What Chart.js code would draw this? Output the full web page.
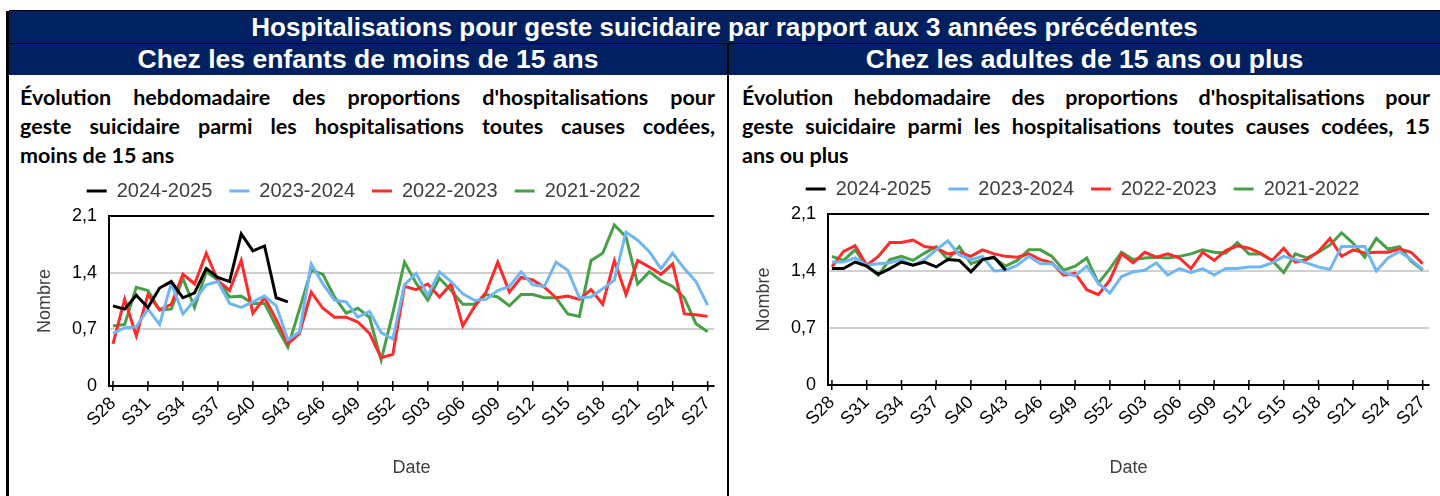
<!DOCTYPE html>
<html lang="fr">
<head>
<meta charset="utf-8">
<title>Hospitalisations pour geste suicidaire</title>
<script src="https://cdn.jsdelivr.net/npm/chart.js@4.4.1/dist/chart.umd.min.js"></script>
<style>
  body {
    margin: 0;
    width: 1440px;
    height: 496px;
    position: relative;
    overflow: hidden;
    background: #fff;
    font-family: 'Liberation Sans', Arial, sans-serif;
  }
  .bandeau {
    position: absolute;
    background: #002060;
    color: #fff;
    font-weight: bold;
    font-size: 26px;
    text-align: center;
    white-space: nowrap;
  }
  #titre { left: 9px; top: 11px; width: 1431px; height: 32px; line-height: 32px; }
  #titre-enfants { left: 9px; top: 44px; width: 718px; height: 31px; line-height: 31px; font-size: 26.5px; }
  #titre-adultes { left: 729px; top: 44px; width: 711px; height: 31px; line-height: 31px; font-size: 26.5px; }
  .trait { position: absolute; background: #000; }
  .sous-titre {
    position: absolute;
    top: 83px;
    font-family: Lato, 'Open Sans', sans-serif;
    font-weight: bold;
    font-size: 21.5px;
    line-height: 29px;
    color: #000;
  }
  .sous-titre div { text-align: justify; text-align-last: justify; white-space: nowrap; }
  .sous-titre div.fin { text-align-last: left; }
  canvas { position: absolute; }
</style>
</head>
<body>
  <div class="trait" style="left:6px; top:11px; width:3px; height:485px;"></div>
  <div class="trait" style="left:9px; top:10px; width:1431px; height:1px;"></div>
  <div id="titre" class="bandeau">Hospitalisations pour geste suicidaire par rapport aux 3 années précédentes</div>
  <div class="trait" style="left:9px; top:43px; width:1431px; height:1px;"></div>
  <div id="titre-enfants" class="bandeau">Chez les enfants de moins de 15 ans</div>
  <div id="titre-adultes" class="bandeau">Chez les adultes de 15 ans ou plus</div>
  <div class="trait" style="left:727px; top:44px; width:2px; height:452px;"></div>

  <div class="sous-titre" style="left:20px; width:695px;">
    <div>Évolution hebdomadaire des proportions d'hospitalisations pour</div>
    <div>geste suicidaire parmi les hospitalisations toutes causes codées,</div>
    <div class="fin">moins de 15 ans</div>
  </div>
  <div class="sous-titre" style="left:742px; width:688px;">
    <div>Évolution hebdomadaire des proportions d'hospitalisations pour</div>
    <div>geste suicidaire parmi les hospitalisations toutes causes codées, 15</div>
    <div class="fin">ans ou plus</div>
  </div>

  <canvas id="graph-enfants" width="715" height="332" style="left:10px; top:164px;"></canvas>
  <canvas id="graph-adultes" width="711" height="334" style="left:729px; top:162px;"></canvas>

<script>
// Semaines de S28 à S27 de l'année suivante
const semaines = [
  'S28', 'S29', 'S30', 'S31', 'S32', 'S33', 'S34', 'S35', 'S36', 'S37', 'S38', 'S39', 'S40',
  'S41', 'S42', 'S43', 'S44', 'S45', 'S46', 'S47', 'S48', 'S49', 'S50', 'S51', 'S52',
  'S01', 'S02', 'S03', 'S04', 'S05', 'S06', 'S07', 'S08', 'S09', 'S10', 'S11', 'S12', 'S13',
  'S14', 'S15', 'S16', 'S17', 'S18', 'S19', 'S20', 'S21', 'S22', 'S23', 'S24', 'S25', 'S26', 'S27'
];
const saisons = ['2024-2025', '2023-2024', '2022-2023', '2021-2022'];
const couleurs = ['#000000', '#6fb6f2', '#ff2a2a', '#47a047'];
const graduationsY = [0, 0.7, 1.4, 2.1];

// Moins de 15 ans
const enfants2024 = [0.99, 0.95, 1.12, 0.97, 1.21, 1.29, 1.09, 1.15, 1.45, 1.34, 1.29, 1.88, 1.67, 1.73, 1.09, 1.04];
const enfants2023 = [0.65, 0.72, 0.73, 0.95, 0.76, 1.27, 0.89, 1.06, 1.25, 1.29, 1.02, 0.97, 1.04, 1.11, 0.99, 0.57,
  0.67, 1.51, 1.26, 1.06, 1.04, 0.85, 0.92, 0.66, 0.58, 1.25, 1.39, 1.12, 1.41, 1.29, 1.14, 1.06, 1.07, 1.18, 1.23,
  1.41, 1.25, 1.23, 1.53, 1.43, 1.09, 1.10, 1.20, 1.31, 1.90, 1.80, 1.66, 1.45, 1.64, 1.45, 1.29, 1.00];
const enfants2022 = [0.52, 1.07, 0.62, 1.13, 0.94, 1.01, 1.38, 1.26, 1.64, 1.30, 1.18, 1.55, 0.90, 1.09, 0.82, 0.52,
  0.65, 1.16, 0.96, 0.85, 0.85, 0.79, 0.65, 0.35, 0.39, 1.23, 1.19, 1.26, 1.10, 1.26, 0.74, 0.98, 1.16, 1.53, 1.16,
  1.34, 1.31, 1.22, 1.09, 1.11, 1.07, 1.19, 1.01, 1.55, 1.13, 1.55, 1.47, 1.38, 1.51, 0.89, 0.88, 0.86];
const enfants2021 = [0.74, 0.76, 1.22, 1.18, 0.94, 0.95, 1.33, 0.97, 1.41, 1.31, 1.10, 1.11, 1.02, 1.02, 0.74, 0.48,
  0.95, 1.43, 1.38, 1.10, 0.90, 0.96, 0.85, 0.32, 0.90, 1.53, 1.27, 1.06, 1.33, 1.18, 1.01, 1.01, 1.13, 1.10, 0.99,
  1.13, 1.13, 1.09, 1.09, 0.89, 0.86, 1.55, 1.64, 1.99, 1.84, 1.26, 1.41, 1.30, 1.23, 1.09, 0.77, 0.67];

// 15 ans ou plus
const adultes2024 = [1.43, 1.43, 1.51, 1.46, 1.36, 1.43, 1.51, 1.47, 1.51, 1.45, 1.54, 1.53, 1.39, 1.54, 1.57, 1.41];
const adultes2023 = [1.51, 1.51, 1.56, 1.47, 1.49, 1.50, 1.54, 1.47, 1.54, 1.66, 1.77, 1.60, 1.54, 1.58, 1.40, 1.41,
  1.47, 1.58, 1.49, 1.49, 1.38, 1.34, 1.46, 1.25, 1.13, 1.33, 1.39, 1.41, 1.50, 1.35, 1.43, 1.38, 1.43, 1.35, 1.43,
  1.43, 1.45, 1.45, 1.50, 1.58, 1.54, 1.50, 1.45, 1.42, 1.70, 1.70, 1.70, 1.40, 1.56, 1.64, 1.54, 1.42];
const adultes2022 = [1.45, 1.64, 1.71, 1.47, 1.58, 1.75, 1.75, 1.78, 1.70, 1.68, 1.61, 1.63, 1.58, 1.66, 1.61, 1.58,
  1.57, 1.61, 1.54, 1.50, 1.35, 1.37, 1.17, 1.11, 1.29, 1.61, 1.50, 1.63, 1.57, 1.61, 1.56, 1.43, 1.63, 1.53, 1.65,
  1.71, 1.68, 1.62, 1.53, 1.68, 1.51, 1.54, 1.64, 1.80, 1.58, 1.66, 1.62, 1.63, 1.63, 1.67, 1.63, 1.49];
const adultes2021 = [1.58, 1.53, 1.66, 1.46, 1.35, 1.54, 1.58, 1.53, 1.62, 1.70, 1.54, 1.70, 1.49, 1.54, 1.56, 1.46,
  1.53, 1.66, 1.66, 1.58, 1.41, 1.46, 1.56, 1.25, 1.43, 1.63, 1.54, 1.56, 1.57, 1.56, 1.58, 1.61, 1.66, 1.63, 1.62,
  1.75, 1.61, 1.61, 1.53, 1.38, 1.61, 1.56, 1.63, 1.72, 1.87, 1.74, 1.57, 1.80, 1.67, 1.70, 1.52, 1.41];

const police = "'Liberation Sans', Arial, sans-serif";

// Petits traits au-dessus de l'axe des x (les graduations traversent l'axe)
const croixGraduations = {
  id: 'croixGraduations',
  afterDraw(chart) {
    const { ctx, chartArea, scales: { x } } = chart;
    ctx.save();
    ctx.strokeStyle = '#000';
    ctx.lineWidth = 1.5;
    x.ticks.forEach(t => {
      const px = x.getPixelForValue(t.value);
      ctx.beginPath();
      ctx.moveTo(px, chartArea.bottom - 5);
      ctx.lineTo(px, chartArea.bottom);
      ctx.stroke();
    });
    ctx.restore();
  }
};

// Hauteur fixe pour la légende, pour caler la zone de tracé
const hauteurLegende = {
  id: 'hauteurLegende',
  beforeInit(chart, args, opts) {
    const fitOrig = chart.legend.fit;
    chart.legend.fit = function () {
      fitOrig.call(this);
      this.height = opts.hauteur;
    };
  }
};

function creerGraphique(id, series, hauteurAxeX, margeDroite) {
  const ctx = document.getElementById(id).getContext('2d');
  return new Chart(ctx, {
    type: 'line',
    data: {
      datasets: series.map((valeurs, k) => ({
        label: saisons[k],
        data: valeurs.map((v, i) => ({ x: i, y: v })),
        borderColor: couleurs[k],
        backgroundColor: couleurs[k],
        borderWidth: 3,
        pointRadius: 0,
        tension: 0
      }))
    },
    plugins: [croixGraduations, hauteurLegende],
    options: {
      responsive: false,
      animation: false,
      devicePixelRatio: 1,
      layout: { padding: { left: 0, right: margeDroite, top: 0, bottom: 0 } },
      plugins: {
        tooltip: { enabled: false },
        hauteurLegende: { hauteur: 52 },
        legend: {
          position: 'top',
          labels: {
            usePointStyle: true,
            pointStyle: 'line',
            pointStyleWidth: 20,
            boxWidth: 20,
            padding: 17,
            color: '#404040',
            font: { family: police, size: 20 }
          }
        }
      },
      scales: {
        x: {
          type: 'linear',
          min: -0.34,
          max: 51.55,
          afterBuildTicks: s => {
            s.ticks = semaines.map((_, i) => i).filter(i => i % 3 === 0).map(v => ({ value: v }));
          },
          afterFit: s => { s.height = hauteurAxeX; },
          ticks: {
            autoSkip: false,
            minRotation: 45,
            maxRotation: 45,
            padding: 2,
            color: '#000',
            font: { family: police, size: 18 },
            callback: v => semaines[v]
          },
          grid: { drawOnChartArea: false, tickLength: 5, color: '#000', lineWidth: 1.5 },
          border: { display: true, color: '#000', width: 2 },
          title: {
            display: true,
            text: 'Date',
            color: '#404040',
            font: { family: police, size: 18 },
            padding: { top: 0, bottom: 17 }
          }
        },
        y: {
          min: 0,
          max: 2.1,
          afterBuildTicks: s => { s.ticks = graduationsY.map(v => ({ value: v })); },
          afterFit: s => { s.width = 99; },
          ticks: {
            padding: 12,
            color: '#000',
            font: { family: police, size: 18 },
            callback: v => String(v).replace('.', ',')
          },
          grid: {
            drawTicks: false,
            color: c => c.tick.value === 2.1 ? '#000' : (c.tick.value === 0 ? 'rgba(0,0,0,0)' : '#d0d0d0'),
            lineWidth: 2
          },
          border: { display: true, color: '#000', width: 2 },
          title: {
            display: true,
            text: 'Nombre',
            color: '#404040',
            font: { family: police, size: 18 },
            padding: { top: 24, bottom: 0 }
          }
        }
      }
    }
  });
}

creerGraphique('graph-enfants', [enfants2024, enfants2023, enfants2022, enfants2021], 110, 8);
creerGraphique('graph-adultes', [adultes2024, adultes2023, adultes2022, adultes2021], 111, 4);
</script>
</body>
</html>
